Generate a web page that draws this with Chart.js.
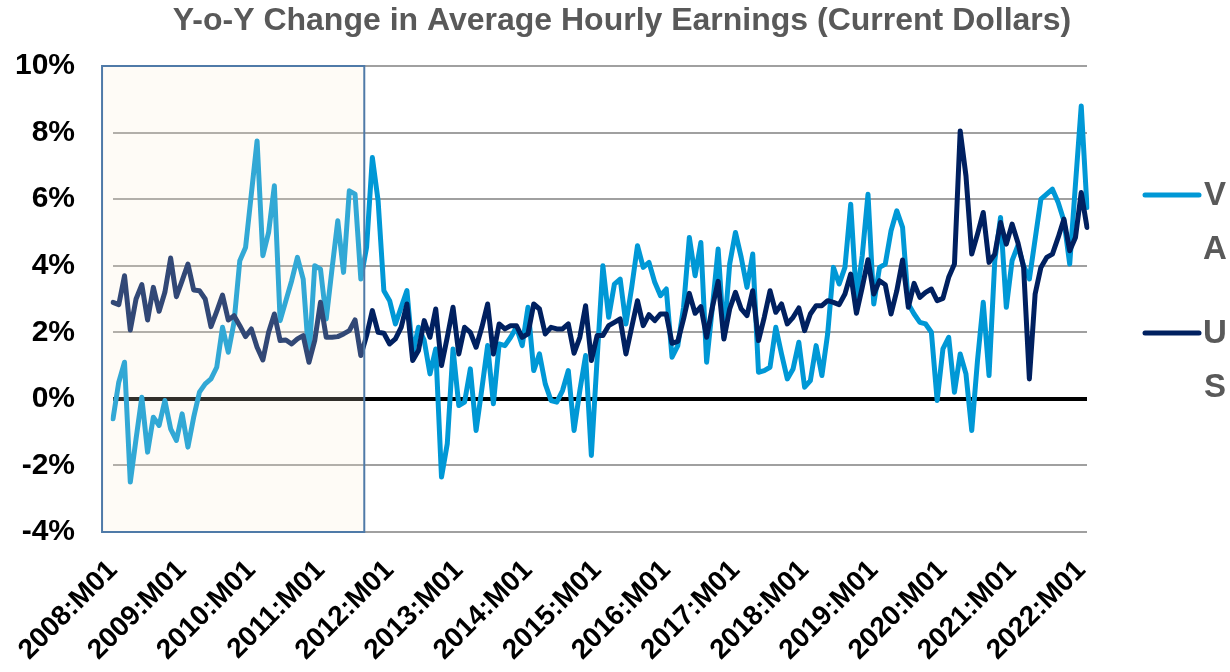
<!DOCTYPE html>
<html>
<head>
<meta charset="utf-8">
<title>Y-o-Y Change in Average Hourly Earnings</title>
<script src="https://cdn.jsdelivr.net/npm/chart.js@4.4.1/dist/chart.umd.min.js"></script>
<style>
    html, body { margin: 0; padding: 0; background: #ffffff; }
    #chartDiv { width: 1230px; height: 672px; }
</style>
</head>
<body>
<div id="chartDiv"><canvas id="chart1" width="1230" height="672"></canvas></div>
<script>
// first month of the series and number of monthly observations
const startYear = 2008;
const monthCount = 170;

const chartTitle = 'Y-o-Y Change in Average Hourly Earnings (Current Dollars)';
const seriesNames = ['VA', 'US'];

// year-over-year change, percent, 2008:M01 .. 2022:M02
const vaValues = [
    -0.6, 0.5, 1.1, -2.5, -1.2, 0.05, -1.6, -0.55, -0.8, -0.05, -0.9, -1.25,
    -0.45, -1.45, -0.55, 0.2, 0.45, 0.6, 0.95, 2.15, 1.4, 2.3, 4.15, 4.55,
    6.15, 7.75, 4.3, 5.0, 6.4, 2.35, 2.95, 3.55, 4.25, 3.6, 1.2, 4.0,
    3.9, 2.4, 3.9, 5.35, 3.8, 6.25, 6.15, 3.6, 4.55, 7.25, 5.95, 3.25,
    2.95, 2.25, 2.75, 3.25, 1.35, 2.15, 1.75, 0.75, 1.5, -2.35, -1.35, 1.5,
    -0.2, -0.1, 0.9, -0.95, 0.3, 1.6, -0.15, 1.65, 1.6, 1.85, 2.15, 1.6,
    2.75, 0.85, 1.35, 0.45, -0.05, -0.1, 0.25, 0.85, -0.95, 0.25, 1.3, -1.7,
    1.2, 4.0, 2.45, 3.45, 3.6, 2.25, 3.35, 4.6, 3.95, 4.1, 3.5, 3.1,
    3.3, 1.25, 1.6, 2.75, 4.85, 3.7, 4.7, 1.1, 2.75, 4.5, 1.85, 4.05,
    5.0, 4.25, 3.35, 4.35, 0.8, 0.85, 0.95, 2.15, 1.35, 0.6, 0.9, 1.7,
    0.35, 0.55, 1.6, 0.7, 1.95, 3.95, 3.45, 3.95, 5.85, 3.0, 4.3, 6.15,
    2.85, 3.95, 4.05, 5.05, 5.65, 5.15, 2.85, 2.55, 2.3, 2.25, 2.0, -0.05,
    1.5, 1.85, 0.2, 1.35, 0.75, -0.95, 1.15, 2.9, 0.7, 4.15, 5.45, 2.75,
    4.15, 4.6, 4.0, 3.6, 4.8, 6.0, 6.15, 6.3, 5.9, 5.35, 4.05, 6.45,
    8.8, 5.75
];

const usValues = [
    2.9, 2.83, 3.7, 2.07, 3.0, 3.43, 2.37, 3.35, 2.63, 3.2, 4.23, 3.07,
    3.55, 4.05, 3.27, 3.25, 3.0, 2.17, 2.63, 3.12, 2.37, 2.5, 2.2, 1.87,
    2.1, 1.55, 1.17, 2.0, 2.55, 1.75, 1.77, 1.65, 1.8, 1.9, 1.1, 1.75,
    2.9, 1.85, 1.85, 1.87, 1.95, 2.05, 2.37, 1.3, 1.9, 2.65, 2.0, 1.97,
    1.65, 1.8, 2.15, 2.85, 1.15, 1.45, 2.35, 1.85, 2.7, 1.0, 1.85, 2.75,
    1.35, 2.15, 2.0, 1.55, 2.15, 2.85, 1.35, 2.25, 2.1, 2.2, 2.2, 1.85,
    1.95, 2.85, 2.7, 1.95, 2.15, 2.1, 2.1, 2.25, 1.37, 1.85, 2.8, 1.15,
    1.9, 1.9, 2.2, 2.3, 2.4, 1.35, 2.15, 2.95, 2.2, 2.53, 2.35, 2.55,
    2.55, 1.67, 1.73, 2.4, 3.17, 2.57, 2.77, 1.85, 2.75, 3.53, 1.8, 2.7,
    3.2, 2.7, 2.5, 3.25, 1.75, 2.45, 3.25, 2.6, 2.85, 2.25, 2.45, 2.73,
    2.05, 2.55, 2.8, 2.8, 2.95, 2.9, 2.83, 3.15, 3.75, 2.57, 3.35, 4.18,
    3.15, 3.55, 3.43, 2.55, 3.25, 4.17, 2.75, 3.47, 3.05, 3.2, 3.3, 2.95,
    3.02, 3.65, 4.05, 8.05, 6.7, 4.35, 4.95, 5.6, 4.1, 4.35, 5.3, 4.65,
    5.25, 4.7, 3.95, 0.6, 3.15, 3.95, 4.25, 4.35, 4.85, 5.4, 4.45, 4.85,
    6.2, 5.15
];

// y axis range and step, in percent
const yMin = -4;
const yMax = 10;
const yStep = 2;

// a label is shown on the x axis every 12 months
const labelEvery = 12;

// highlighted period, in month index units (box is drawn over the lines)
const shadedFrom = -1.9;
const shadedTo = 43.6;

// month labels like 2008:M01
const monthLabels = [];
for (let i = 0; i < monthCount; i++) {
    const year = startYear + Math.floor(i / 12);
    const month = (i % 12) + 1;
    monthLabels.push(year + ':M' + (month < 10 ? '0' + month : month));
}

const lineColors = ['#0098d6', '#002060'];
const fontFamily = '"Liberation Sans", Arial, sans-serif';

// translucent cream box over the first years
const shadePlugin = {
    id: 'shadeBox',
    afterDatasetsDraw(chart) {
        const ctx = chart.ctx;
        const x = chart.scales.x;
        const y = chart.scales.y;
        const left = x.getPixelForValue(shadedFrom);
        const right = x.getPixelForValue(shadedTo);
        const top = y.getPixelForValue(yMax);
        const bottom = y.getPixelForValue(yMin);
        ctx.save();
        ctx.fillStyle = 'rgba(252, 236, 208, 0.2)';
        ctx.fillRect(left, top, right - left, bottom - top);
        ctx.strokeStyle = '#4f7aa8';
        ctx.lineWidth = 2;
        ctx.strokeRect(left, top, right - left, bottom - top);
        ctx.restore();
    }
};

// title centred over the whole picture, legend on the right:
// short line and the name written one letter per line
const sideLegend = {
    id: 'sideLegend',
    afterDraw(chart) {
        const ctx = chart.ctx;
        ctx.save();
        ctx.fillStyle = '#595959';
        ctx.font = 'bold 32px ' + fontFamily;
        ctx.textAlign = 'center';
        ctx.textBaseline = 'middle';
        ctx.fillText(chartTitle, 622, 21);

        const rowTops = [195, 333];
        ctx.font = 'bold 33px ' + fontFamily;
        chart.data.datasets.forEach(function (ds, k) {
            const yPos = rowTops[k];
            ctx.strokeStyle = ds.borderColor;
            ctx.lineWidth = 5;
            ctx.lineCap = 'round';
            ctx.beginPath();
            ctx.moveTo(1145, yPos);
            ctx.lineTo(1199, yPos);
            ctx.stroke();
            ds.label.split('').forEach(function (ch, j) {
                ctx.fillText(ch, 1215, yPos + 1 + j * 54);
            });
        });
        ctx.restore();
    }
};

const ctx = document.getElementById('chart1');
const myChart = new Chart(ctx, {
    type: 'line',
    data: {
        labels: monthLabels,
        datasets: [{
            label: seriesNames[0],
            data: vaValues,
            borderColor: lineColors[0],
            backgroundColor: lineColors[0],
            borderWidth: 5,
            pointRadius: 0,
            tension: 0,
            borderJoinStyle: 'round',
            borderCapStyle: 'round',
            order: 2
        }, {
            label: seriesNames[1],
            data: usValues,
            borderColor: lineColors[1],
            backgroundColor: lineColors[1],
            borderWidth: 5,
            pointRadius: 0,
            tension: 0,
            borderJoinStyle: 'round',
            borderCapStyle: 'round',
            order: 1
        }]
    },
    options: {
        responsive: false,
        animation: false,
        devicePixelRatio: 1,
        layout: {
            padding: { left: 0, right: 143, top: 66, bottom: 0 }
        },
        plugins: {
            legend: { display: false },
            tooltip: { enabled: false },
            title: { display: false }
        },
        scales: {
            x: {
                offset: false,
                grid: { display: false },
                border: { display: false },
                ticks: {
                    autoSkip: false,
                    minRotation: 45,
                    maxRotation: 45,
                    padding: 14,
                    color: '#000000',
                    font: { family: fontFamily, size: 28, weight: 'bold' },
                    callback: function (value, index) {
                        return index % labelEvery === 0 ? this.getLabelForValue(value) : '';
                    }
                },
                afterFit: function (scale) {
                    scale.height = 140;
                }
            },
            y: {
                min: yMin,
                max: yMax,
                border: { display: false },
                grid: {
                    drawTicks: false,
                    color: function (c) {
                        return c.tick.value === 0 ? '#000000' : '#a0a0a0';
                    },
                    lineWidth: function (c) {
                        return c.tick.value === 0 ? 4 : 2;
                    }
                },
                ticks: {
                    stepSize: yStep,
                    padding: 38,
                    color: '#000000',
                    font: { family: fontFamily, size: 30, weight: 'bold' },
                    callback: function (value) {
                        return value + '%';
                    }
                },
                afterFit: function (scale) {
                    scale.width = 113;
                }
            }
        }
    },
    plugins: [shadePlugin, sideLegend]
});
</script>
</body>
</html>
